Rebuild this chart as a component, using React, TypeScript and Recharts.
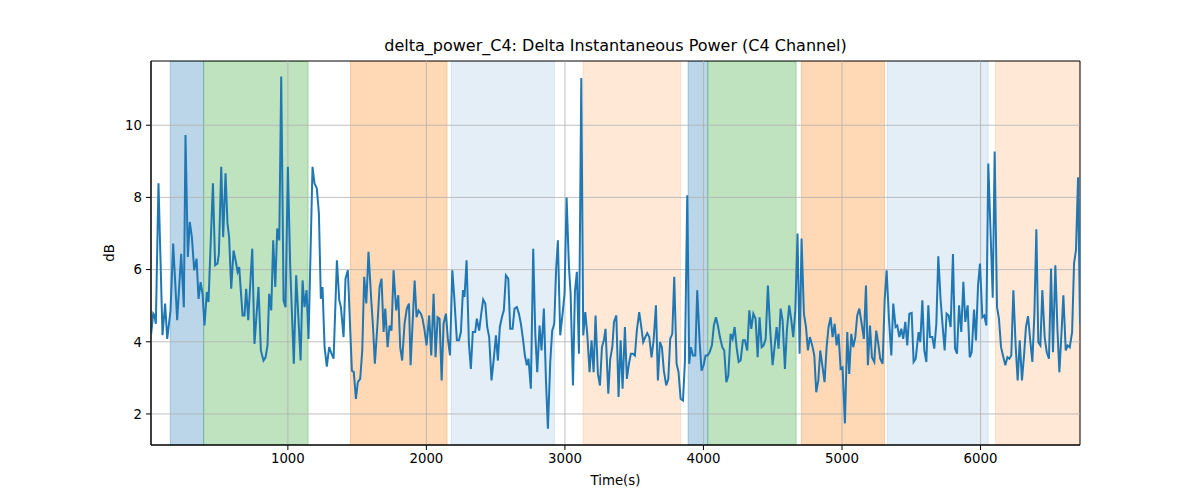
import { LineChart, Line, XAxis, YAxis, ReferenceArea, ReferenceLine } from 'recharts'

// sample times (s)
const timeS = [
  13, 28, 37, 47, 66, 95, 114, 129, 153, 172,
  201, 230, 249, 261, 278, 292, 307, 324, 341, 355,
  370, 384, 398, 415, 427, 459, 475, 492, 502, 519,
  533, 550, 564, 576, 591, 608, 625, 637, 649, 656,
  673, 687, 699, 714, 743, 759, 788, 805, 824, 839,
  853, 865, 880, 894, 909, 923, 938, 952, 969, 983,
  1000, 1017, 1043, 1060, 1092, 1106, 1120, 1135, 1149,
  1178, 1192, 1209, 1224, 1238, 1250, 1265, 1281, 1298, 1315,
  1330, 1354, 1371, 1383, 1402, 1416, 1433, 1462, 1476, 1491,
  1505, 1522, 1537, 1551, 1566, 1582, 1602, 1614, 1628, 1647,
  1662, 1676, 1691, 1703, 1720, 1734, 1748, 1763, 1782, 1797,
  1811, 1825, 1842, 1859, 1874, 1886, 1915, 1929, 1943, 1960,
  1972, 1987, 2001, 2020, 2035, 2052, 2066, 2081, 2095, 2110,
  2124, 2141, 2155, 2170, 2187, 2201, 2220, 2235, 2249, 2264,
  2275, 2290, 2307, 2321, 2335, 2352, 2364, 2381, 2396, 2410,
  2425, 2439, 2453, 2470, 2485, 2502, 2516, 2530, 2545, 2559,
  2574, 2591, 2605, 2622, 2636, 2653, 2668, 2682, 2697, 2711,
  2725, 2737, 2754, 2771, 2786, 2800, 2817, 2831, 2848, 2863,
  2877, 2894, 2908, 2923, 2937, 2949, 2966, 2983, 2997, 3012,
  3029, 3041, 3058, 3072, 3086, 3101, 3118, 3132, 3147, 3161,
  3178, 3192, 3207, 3221, 3238, 3253, 3267, 3281, 3293, 3313,
  3327, 3342, 3354, 3371, 3387,
  3402, 3416, 3433, 3447, 3462, 3476, 3491, 3505, 3519, 3536,
  3551, 3565, 3580, 3594, 3609, 3625, 3640, 3657, 3671, 3686,
  3700, 3714, 3731, 3746, 3760, 3775, 3789, 3806, 3820, 3835,
  3852, 3866, 3883, 3897, 3909, 3924, 3941, 3955, 3972, 3986,
  4001, 4015, 4030, 4044, 4061, 4075, 4090, 4104, 4119, 4136,
  4150, 4165, 4179, 4196, 4210, 4225, 4239, 4254, 4268, 4285,
  4299, 4316, 4331, 4345, 4360, 4376, 4391, 4405, 4420, 4434,
  4449, 4465, 4482, 4499,
  4513, 4528, 4542, 4557, 4571, 4588, 4602, 4619, 4634, 4648,
  4663, 4679, 4694, 4708, 4725, 4740, 4754, 4768, 4785, 4800,
  4814, 4829, 4843, 4860, 4874, 4889, 4903, 4918, 4932, 4947,
  4961, 4975, 4990, 5004, 5021, 5038, 5052, 5067, 5081, 5096,
  5110, 5125, 5142, 5158, 5173, 5187, 5202, 5216, 5233, 5247,
  5262, 5276, 5293, 5308, 5322, 5339, 5356, 5370, 5387, 5399,
  5414, 5428, 5442, 5457, 5471, 5486, 5503, 5517, 5532, 5546,
  5553, 5565, 5580, 5594, 5609, 5623,
  5635, 5652, 5666, 5681, 5695, 5712, 5727, 5741, 5755, 5770,
  5784, 5801, 5816, 5830, 5845, 5861, 5876, 5890, 5907, 5922,
  5936, 5953, 5967, 5982, 5996, 6013, 6027, 6042, 6056, 6088,
  6102, 6119, 6133, 6148, 6165, 6179, 6194, 6208, 6222, 6237,
  6254, 6268, 6283, 6299, 6314, 6328, 6343, 6360, 6374, 6389,
  6403, 6417, 6432, 6446, 6463, 6478, 6494, 6509, 6523, 6540,
  6555, 6569, 6584, 6598, 6615, 6629, 6644, 6661, 6675, 6689,
  6704, 6718,
]

// delta power (dB) at each sample
const deltaDb = [
  4.22, 4.78, 4.73, 4.5, 8.39, 4.18, 5.06, 4.08, 4.87, 6.72,
  4.6, 6.44, 4.96, 9.73, 6.35, 7.32, 6.9, 5.98, 6.3, 5.19,
  5.65, 5.33, 4.45, 5.38, 5.1, 8.39, 6.12, 6.17, 6.44, 8.85,
  6.9, 8.67, 7.28, 6.9, 5.47, 6.53, 6.21, 5.94, 6.07, 5.65,
  4.73, 4.73, 5.47, 4.6, 6.58, 3.94, 5.52, 3.76, 3.48, 3.57,
  3.9, 5.33, 4.87, 6.81, 5.52, 7.14, 6.81, 11.35, 5.15, 4.96,
  8.85, 6.07, 3.39, 5.84, 3.48, 5.7, 4.96, 5.43, 4.08,
  8.85, 8.39, 8.25, 7.56, 5.19, 5.52, 3.85, 3.31, 3.85, 3.67,
  3.53, 6.26, 5.15, 4.96, 4.13, 5.75, 5.98, 3.2, 3.16, 2.42,
  2.88, 2.97, 3.76, 5.8, 5.06, 6.49, 5.15, 4.45, 3.39, 4.5,
  5.52, 5.75, 4.27, 4.92, 3.85, 4.45, 4.31, 5.98, 4.87, 5.29,
  3.85, 3.48, 4.5, 4.92, 5.06, 3.35, 5.7, 4.68, 4.87, 4.78,
  4.64, 4.31, 3.9, 4.73, 3.62, 5.33, 3.57, 4.68, 4.64, 2.93,
  4.5, 4.78, 4.08, 3.62, 5.98, 5.24, 4.04, 4.04, 4.27, 5.43,
  5.24, 6.26, 3.94, 3.25, 4.27, 4.27, 4.64, 4.31, 4.78, 5.17,
  5.06, 4.41, 4.13, 2.93, 3.48, 4.18, 3.48, 4.41, 4.68, 4.87,
  5.84, 5.75, 4.36, 4.36, 4.92, 4.96, 4.78, 4.5, 4.08, 3.62,
  3.35, 3.53, 2.7, 6.58, 4.22, 3.16, 4.45, 3.76, 4.92, 2.93,
  1.59, 3.44, 4.31, 4.5, 6.07, 6.81, 4.18, 4.78, 5.33, 8.0,
  6.07, 5.33, 2.79, 5.38, 5.94, 3.67, 11.31, 4.18, 4.82, 4.22,
  3.16, 4.04, 3.16, 4.73, 3.11, 2.79, 3.85, 4.04, 4.36, 2.56,
  3.53, 3.85, 4.55, 4.73, 2.47,
  4.04, 2.7, 4.41, 2.97, 3.39, 3.67, 3.67, 3.62, 4.31, 4.82,
  4.41, 3.99, 4.13, 4.24, 4.13, 3.57, 4.04, 5.01, 2.93, 3.99,
  3.85, 3.2, 2.79, 2.97, 4.08, 4.22, 5.8, 3.39, 3.16, 2.42,
  2.37, 3.44, 8.06, 3.39, 3.85, 3.62, 3.62, 5.43, 4.04, 3.2,
  3.35, 3.62, 3.62, 3.71, 3.9, 4.45, 4.68, 4.45, 4.13, 3.85,
  3.76, 2.88, 3.06, 4.22, 4.08, 4.41, 3.85, 3.44, 3.48, 4.04,
  4.04, 3.76, 4.87, 4.36, 4.78, 4.64, 3.57, 4.68, 3.85, 3.9,
  4.08, 5.56, 4.31, 3.35,
  3.85, 4.41, 3.81, 4.92, 4.6, 3.25, 4.31, 5.01, 4.6, 4.13,
  4.87, 7.0, 3.67, 6.86, 4.78, 4.41, 3.76, 4.13, 3.9, 3.62,
  2.6, 2.93, 3.76, 3.29, 2.88, 3.85, 4.41, 4.68, 4.13, 4.5,
  3.9, 4.22, 3.25, 3.29, 1.74, 4.27, 3.11, 4.22, 3.85, 4.13,
  4.73, 4.92, 4.5, 4.08, 5.56, 3.35, 4.45, 3.57, 3.44, 4.31,
  3.94, 3.53, 3.39, 5.15, 5.98, 4.64, 3.62, 5.06, 4.41, 4.45,
  4.13, 4.36, 4.08, 4.55, 3.9, 4.78, 4.8, 3.44, 3.53, 4.04,
  4.27, 3.99, 5.15, 3.76, 3.44, 5.01,
  4.13, 4.13, 3.81, 4.5, 6.37, 5.15, 4.41, 3.76, 4.78, 4.73,
  4.41, 6.43, 3.81, 3.67, 5.01, 4.27, 5.66, 4.55, 5.01, 3.57,
  3.71, 4.89, 4.04, 5.56, 6.17, 4.68, 4.73, 4.45, 8.94, 5.22,
  9.27, 4.96, 4.64, 3.85, 3.57, 3.35, 3.57, 3.53, 3.62, 5.43,
  3.85, 2.93, 4.04, 2.93, 3.62, 4.41, 4.71, 3.99, 3.44, 4.78,
  7.12, 3.99, 3.9, 5.43, 4.13, 3.71, 3.53, 6.03, 3.71, 6.12,
  4.36, 3.16, 4.22, 5.29, 3.76, 3.9, 3.85, 4.27, 6.17, 6.54,
  8.56, 4.5,
]

// shaded stage intervals
const bandStart = [151, 392, 1451, 2178, 3131, 3889, 4031, 4707, 5326, 6108]
const bandEnd = [392, 1146, 2149, 2924, 3834, 4031, 4669, 5307, 6055, 6718]
const bandKind = ['blue', 'green', 'orange', 'pale', 'peach', 'blue', 'green', 'orange', 'pale', 'peach']

const xTicks = [1000, 2000, 3000, 4000, 5000, 6000]
const yTicks = [2, 4, 6, 8, 10]

const bandStyle: Record<string, { color: string; alpha: number }> = {
  blue: { color: '#1f77b4', alpha: 0.3 },
  green: { color: '#2ca02c', alpha: 0.3 },
  orange: { color: '#ff7f0e', alpha: 0.3 },
  pale: { color: '#1f77b4', alpha: 0.12 },
  peach: { color: '#ff7f0e', alpha: 0.17 },
}

const X_MIN = 12
const X_MAX = 6718
const Y_MIN = 1.14
const Y_MAX = 11.78

const data = timeS.map((t, i) => ({ t, v: deltaDb[i] }))

const font = '"DejaVu Sans", sans-serif'

export default function App() {
  return (
    <div style={{ position: 'absolute', left: 0, top: 0, width: 1200, height: 500, background: '#fff', fontFamily: font }}>
      <div style={{ position: 'absolute', left: 151, width: 929, top: 37, textAlign: 'center', fontSize: 16, lineHeight: '18px', color: '#000' }}>
        delta_power_C4: Delta Instantaneous Power (C4 Channel)
      </div>
      <div style={{ position: 'absolute', left: 151, width: 929, top: 473, textAlign: 'center', fontSize: 13.3, lineHeight: '16px', color: '#000' }}>
        Time(s)
      </div>
      <div style={{ position: 'absolute', left: 110, top: 253, transform: 'translate(-50%, -50%) rotate(-90deg)', fontSize: 13.3, lineHeight: '16px', color: '#000' }}>
        dB
      </div>
      <LineChart width={1200} height={500} data={data} margin={{ top: 61, right: 120, bottom: 15, left: 91 }}>
        <XAxis
          dataKey="t"
          type="number"
          domain={[X_MIN, X_MAX]}
          ticks={xTicks}
          allowDataOverflow
          height={40}
          tickSize={5}
          tickMargin={4}
          axisLine={{ stroke: '#000' }}
          tickLine={{ stroke: '#000' }}
          tick={{ fill: '#000', fontSize: 13.3, fontFamily: font }}
        />
        <YAxis
          type="number"
          domain={[Y_MIN, Y_MAX]}
          ticks={yTicks}
          allowDataOverflow
          width={60}
          tickSize={5}
          tickMargin={4}
          axisLine={{ stroke: '#000' }}
          tickLine={{ stroke: '#000' }}
          tick={{ fill: '#000', fontSize: 13.3, fontFamily: font }}
        />
        {bandStart.map((s, i) => (
          <ReferenceArea
            key={'band' + i}
            x1={s}
            x2={bandEnd[i]}
            y1={Y_MIN}
            y2={Y_MAX}
            fill={bandStyle[bandKind[i]].color}
            fillOpacity={bandStyle[bandKind[i]].alpha}
            stroke={bandStyle[bandKind[i]].color}
            strokeOpacity={bandStyle[bandKind[i]].alpha}
            ifOverflow="hidden"
          />
        ))}
        {xTicks.map((x) => (
          <ReferenceLine key={'gx' + x} x={x} stroke="#b0b0b0" strokeWidth={0.8} />
        ))}
        {yTicks.map((y) => (
          <ReferenceLine key={'gy' + y} y={y} stroke="#b0b0b0" strokeWidth={0.8} />
        ))}
        <Line
          type="linear"
          dataKey="v"
          stroke="#1f77b4"
          strokeWidth={2}
          dot={false}
          isAnimationActive={false}
        />
        <ReferenceArea x1={X_MIN} x2={X_MAX} y1={Y_MIN} y2={Y_MAX} fill="none" stroke="#000" strokeWidth={1} />
      </LineChart>
    </div>
  )
}
